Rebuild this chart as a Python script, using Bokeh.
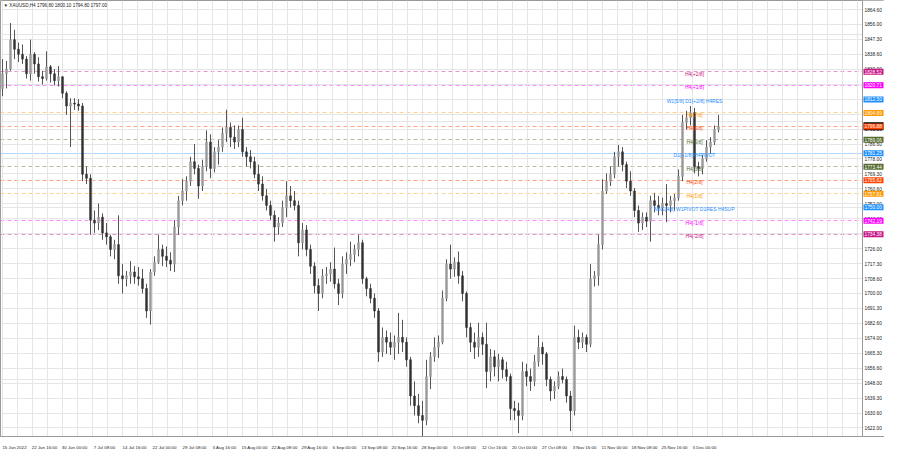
import numpy as np
import pandas as pd
from bokeh.plotting import figure
from bokeh.models import (ColumnDataSource, FixedTicker, Range1d, Grid,
                          BoxAnnotation, Span)
from bokeh.core.properties import value
from bokeh.embed import file_html
from bokeh.resources import INLINE

# ---------------- data ----------------
title_text = "\u25BC XAUUSD,H4  1796.80 1800.10 1794.80 1797.00"
current_price = 1797.00

# each candle below aggregates 4 consecutive H4 bars
opens = [
    1818.9, 1827.4, 1830.2, 1847.2, 1841.6, 1838.7, 1835.9, 1827.4, 1838.7, 1833.1,
    1825.7, 1824.6, 1831.4, 1827.4, 1823.4, 1825.7, 1816.1, 1808.7, 1810.4, 1809.8,
    1808.7, 1769.1, 1766.8, 1742.5, 1740.8, 1744.2, 1735.1, 1732.8, 1725.5, 1728.3,
    1710.2, 1708.5, 1710.2, 1712.4, 1709.6, 1708.5, 1702.8, 1689.8, 1712.4, 1718.1,
    1725.5, 1721.5, 1719.2, 1717.0, 1738.5, 1753.8,
    1759.4, 1765.1, 1776.4, 1772.5, 1762.3, 1773.6, 1787.8, 1772.5, 1782.1, 1784.9,
    1792.9, 1796.3, 1790.6, 1787.8, 1795.1, 1782.1, 1779.3, 1776.4, 1769.1, 1763.4,
    1756.6, 1751.0, 1745.3, 1738.5, 1740.8, 1749.8, 1756.6, 1753.8, 1751.0, 1729.4,
    1736.8, 1725.5, 1715.8, 1704.5, 1700.0, 1710.2, 1711.3, 1714.1, 1705.6, 1700.0,
    1717.0, 1719.8, 1722.6, 1725.5,
    1729.4, 1708.5, 1702.8, 1697.2, 1689.8, 1666.0, 1674.5, 1671.7, 1668.8, 1671.7,
    1674.5, 1671.7, 1661.5, 1640.5, 1634.9, 1629.2, 1626.4, 1651.8, 1663.2, 1668.8,
    1671.7, 1697.2, 1717.0, 1714.1, 1718.1, 1710.2, 1700.0, 1680.2, 1671.7, 1668.8,
    1674.5, 1670.5, 1654.7, 1663.2, 1657.5, 1661.5, 1655.8, 1651.8, 1633.2, 1632.0,
    1629.2, 1654.7, 1651.8, 1649.0, 1660.3, 1668.8,
    1664.9, 1650.1, 1643.4, 1646.2, 1651.8, 1650.1, 1640.5, 1632.0, 1674.5, 1671.7,
    1674.5, 1670.5, 1708.5, 1710.2, 1728.3, 1759.4, 1765.1, 1769.1, 1779.3, 1782.1,
    1774.7, 1765.1, 1759.4, 1748.1, 1740.8, 1744.2, 1741.9, 1753.8, 1751.0, 1749.8,
    1752.1, 1751.0, 1753.8, 1755.5, 1767.9, 1799.1, 1801.9, 1804.8, 1773.6, 1772.5,
    1778.1, 1784.9, 1787.8, 1795.1,
]
highs = [
    1835.9, 1834.8, 1856.8, 1852.9, 1845.5, 1844.4, 1837.6, 1847.2, 1839.9, 1837.0,
    1829.1, 1840.4, 1832.5, 1830.2, 1831.9, 1825.7, 1817.2, 1813.2, 1813.2, 1812.7,
    1810.4, 1773.6, 1769.1, 1748.1, 1752.1, 1746.4, 1740.8, 1734.0, 1731.1, 1745.3,
    1717.0, 1713.0, 1718.7, 1715.8, 1715.3, 1714.1, 1705.6, 1714.1, 1721.5, 1734.0,
    1728.3, 1727.2, 1723.8, 1742.5, 1756.6, 1766.2,
    1767.9, 1779.3, 1786.6, 1774.7, 1777.6, 1794.6, 1792.3, 1784.9, 1788.9, 1796.3,
    1806.5, 1799.1, 1797.4, 1797.4, 1801.9, 1784.9, 1783.2, 1779.3, 1774.7, 1767.9,
    1760.6, 1753.8, 1748.1, 1744.2, 1753.8, 1765.1, 1762.3, 1759.4, 1753.8, 1740.8,
    1739.6, 1728.3, 1718.1, 1708.5, 1714.1, 1715.3, 1718.1, 1726.6, 1708.5, 1721.5,
    1723.8, 1730.0, 1728.3, 1734.0,
    1731.1, 1709.6, 1705.6, 1700.0, 1691.5, 1680.2, 1678.5, 1677.3, 1675.6, 1688.7,
    1684.7, 1674.5, 1663.2, 1649.0, 1641.7, 1637.7, 1661.5, 1666.0, 1674.5, 1675.6,
    1701.7, 1719.8, 1728.3, 1720.9, 1724.3, 1713.0, 1701.1, 1683.0, 1677.3, 1683.0,
    1677.3, 1683.0, 1667.7, 1667.1, 1664.9, 1663.2, 1660.3, 1653.5, 1637.7, 1636.6,
    1660.3, 1659.2, 1656.4, 1664.3, 1675.6, 1671.7,
    1666.0, 1651.8, 1649.0, 1654.7, 1656.4, 1651.8, 1643.4, 1681.3, 1679.0, 1677.3,
    1676.2, 1717.0, 1713.0, 1734.0, 1766.2, 1769.6, 1773.6, 1782.1, 1786.1, 1784.9,
    1776.4, 1770.8, 1761.1, 1751.0, 1747.0, 1747.0, 1756.6, 1758.3, 1756.6, 1755.5,
    1763.4, 1756.6, 1757.7, 1771.9, 1803.6, 1805.9, 1808.7, 1807.6, 1776.4, 1780.4,
    1788.9, 1790.6, 1797.4, 1803.5,
]
lows = [
    1814.4, 1818.9, 1829.1, 1835.9, 1834.2, 1833.1, 1824.6, 1823.4, 1827.4, 1822.9,
    1821.2, 1823.4, 1822.3, 1820.6, 1820.0, 1813.2, 1803.6, 1784.9, 1806.4, 1805.9,
    1765.1, 1763.4, 1734.0, 1735.1, 1736.8, 1731.1, 1728.3, 1721.5, 1719.8, 1705.6,
    1700.0, 1704.0, 1705.6, 1705.6, 1704.5, 1700.0, 1685.8, 1681.9, 1710.2, 1717.0,
    1715.8, 1715.3, 1713.0, 1712.4, 1734.0, 1751.0,
    1753.8, 1762.3, 1769.1, 1754.9, 1759.4, 1770.8, 1766.8, 1770.2, 1774.7, 1782.1,
    1787.8, 1784.9, 1783.8, 1784.9, 1779.3, 1773.6, 1772.5, 1766.8, 1759.4, 1753.8,
    1748.1, 1742.5, 1730.0, 1734.0, 1738.5, 1744.2, 1749.8, 1748.1, 1721.5, 1725.5,
    1721.5, 1711.3, 1700.0, 1689.8, 1697.2, 1705.6, 1706.8, 1702.8, 1693.2, 1697.2,
    1711.3, 1715.8, 1718.1, 1721.5,
    1705.6, 1698.3, 1694.3, 1685.8, 1660.3, 1663.2, 1664.9, 1664.3, 1661.5, 1664.9,
    1666.0, 1657.5, 1634.9, 1629.2, 1624.7, 1616.7, 1623.5, 1644.5, 1660.3, 1662.6,
    1670.5, 1695.4, 1708.5, 1709.6, 1705.6, 1695.4, 1674.5, 1666.0, 1662.0, 1663.2,
    1664.3, 1645.0, 1649.0, 1651.8, 1649.0, 1650.7, 1649.0, 1626.4, 1626.4, 1619.0,
    1626.4, 1646.2, 1643.4, 1646.2, 1657.5, 1658.6,
    1646.2, 1637.7, 1638.8, 1644.5, 1647.9, 1636.6, 1620.1, 1629.2, 1667.7, 1668.3,
    1666.0, 1668.8, 1704.0, 1704.5, 1725.5, 1757.7, 1762.3, 1766.8, 1773.6, 1770.8,
    1761.1, 1756.6, 1744.2, 1735.7, 1736.8, 1738.5, 1730.0, 1747.0, 1745.3, 1745.3,
    1741.3, 1747.0, 1748.1, 1753.8, 1765.1, 1795.1, 1797.4, 1769.6, 1767.9, 1769.1,
    1776.4, 1781.0, 1786.1, 1793.4,
]
closes = [
    1827.4, 1830.2, 1847.2, 1841.6, 1838.7, 1835.9, 1827.4, 1838.7, 1833.1, 1825.7,
    1824.6, 1831.4, 1827.4, 1823.4, 1825.7, 1816.1, 1808.7, 1810.4, 1809.8, 1808.7,
    1769.1, 1766.8, 1742.5, 1740.8, 1744.2, 1735.1, 1732.8, 1725.5, 1728.3, 1710.2,
    1708.5, 1710.2, 1712.4, 1709.6, 1708.5, 1702.8, 1689.8, 1712.4, 1718.1, 1725.5,
    1721.5, 1719.2, 1717.0, 1738.5, 1753.8, 1759.4,
    1765.1, 1776.4, 1772.5, 1762.3, 1773.6, 1787.8, 1772.5, 1782.1, 1784.9, 1792.9,
    1796.3, 1790.6, 1787.8, 1795.1, 1782.1, 1779.3, 1776.4, 1769.1, 1763.4, 1756.6,
    1751.0, 1745.3, 1738.5, 1740.8, 1749.8, 1756.6, 1753.8, 1751.0, 1729.4, 1736.8,
    1725.5, 1715.8, 1704.5, 1700.0, 1710.2, 1711.3, 1714.1, 1705.6, 1700.0, 1717.0,
    1719.8, 1722.6, 1725.5, 1729.4,
    1708.5, 1702.8, 1697.2, 1689.8, 1666.0, 1674.5, 1671.7, 1668.8, 1671.7, 1674.5,
    1671.7, 1661.5, 1640.5, 1634.9, 1629.2, 1626.4, 1651.8, 1663.2, 1668.8, 1671.7,
    1697.2, 1717.0, 1714.1, 1718.1, 1710.2, 1700.0, 1680.2, 1671.7, 1668.8, 1674.5,
    1670.5, 1654.7, 1663.2, 1657.5, 1661.5, 1655.8, 1651.8, 1633.2, 1632.0, 1629.2,
    1654.7, 1651.8, 1649.0, 1660.3, 1668.8, 1664.9,
    1650.1, 1643.4, 1646.2, 1651.8, 1650.1, 1640.5, 1632.0, 1674.5, 1671.7, 1674.5,
    1670.5, 1708.5, 1710.2, 1728.3, 1759.4, 1765.1, 1769.1, 1779.3, 1782.1, 1774.7,
    1765.1, 1759.4, 1748.1, 1740.8, 1744.2, 1741.9, 1753.8, 1751.0, 1749.8, 1752.1,
    1751.0, 1753.8, 1755.5, 1767.9, 1799.1, 1801.9, 1804.8, 1773.6, 1772.5, 1778.1,
    1784.9, 1787.8, 1795.1, 1797.0,
]

# Murrey-math style levels drawn on the chart
level_prices = [1828.52, 1820.71, 1812.50, 1804.69, 1796.88, 1789.06, 1781.25,
                1773.44, 1765.62, 1757.81, 1750.00, 1742.19, 1734.38]
level_names = ["H4[+2/8]", "H4[+1/8]", "W1[5/8] D1[+2/8] H4RES", "H4[7/8]", "H4[6/8]",
               "H4[5/8]", "D1[+1/8] H4PIVOT", "H4[3/8]", "H4[2/8]", "H4[1/8]",
               "MN1[4/8] W1PIVOT D1RES H4SUP", "H4[-1/8]", "H4[-2/8]"]

price_ticks = [1864.60, 1856.00, 1847.30, 1838.60, 1830.00, 1821.30, 1812.60, 1804.00,
               1795.30, 1786.60, 1778.00, 1769.30, 1760.60, 1752.00, 1743.30, 1734.60,
               1726.00, 1717.30, 1708.60, 1700.00, 1691.30, 1682.60, 1674.00, 1665.30,
               1656.60, 1648.00, 1639.30, 1630.60, 1622.00, 1613.30]

time_labels = ["15 Jun 2022", "22 Jun 16:00", "30 Jun 00:00", "7 Jul 08:00", "14 Jul 16:00",
               "22 Jul 00:00", "29 Jul 08:00", "5 Aug 16:00", "15 Aug 00:00", "22 Aug 08:00",
               "29 Aug 16:00", "6 Sep 00:00", "13 Sep 08:00", "20 Sep 16:00", "28 Sep 00:00",
               "5 Oct 08:00", "12 Oct 16:00", "20 Oct 00:00", "27 Oct 08:00", "3 Nov 16:00",
               "11 Nov 00:00", "18 Nov 08:00", "25 Nov 16:00", "5 Dec 00:00"]

assert len(opens) == len(highs) == len(lows) == len(closes)

# ---------------- styles / layout ----------------
FONT = "Liberation Sans"
level_colors = ["#C71585", "#FF00FF", "#1E90FF", "#FF9900", "#FF4500", "#556B2F", "#1E90FF",
                "#556B2F", "#FF4500", "#FF9900", "#1E90FF", "#FF00FF", "#C71585"]
level_solid = [False, False, True, False, False, False, True,
               False, False, False, True, False, False]
level_alpha = [0.45, 0.45, 0.35, 0.45, 0.5, 0.45, 0.35, 0.45, 0.5, 0.45, 0.6, 0.45, 0.45]

W, H = 884, 452
STRIP = 862                # where the price scale strip starts (H4-bar units == px)
H4_PER_CANDLE = 4          # one drawn candle = 4 H4 bars
LABEL_BAR = 694            # H4 bar at which the level texts are anchored
TIME_LABEL_STEP = 30       # H4 bars between time-axis labels
Y_TOP, Y_BOTTOM = 1869.9, 1617.0

n = len(closes)
bar_pos = np.arange(n) * H4_PER_CANDLE + H4_PER_CANDLE / 2

df = pd.DataFrame(dict(x=bar_pos, o=opens, h=highs, l=lows, c=closes))
df["top"] = df[["o", "c"]].max(axis=1)
df["bottom"] = df[["o", "c"]].min(axis=1)
df["fill"] = np.where(df["c"] >= df["o"], "#9a9a9a", "#333333")
src = ColumnDataSource(df)

p = figure(width=W, height=H, output_backend="svg", toolbar_location=None,
           x_range=Range1d(0, W), y_range=Range1d(Y_BOTTOM, Y_TOP),
           y_axis_location=None,
           min_border_left=0, min_border_top=0, min_border_right=0, min_border_bottom=9,
           background_fill_color="white", border_fill_color="white",
           outline_line_color="#9a9a9a", outline_line_width=1)

# time axis
label_start = [1 + TIME_LABEL_STEP * k for k in range(len(time_labels))]
label_center = [s + 13 for s in label_start]
xax = p.xaxis[0]
xax.ticker = FixedTicker(ticks=label_center)
xax.major_label_overrides = {t: lab for t, lab in zip(label_center, time_labels)}
xax.major_label_text_font_size = "4.4px"
xax.major_label_text_font = FONT
xax.major_label_text_color = "#222222"
xax.major_label_standoff = 2
xax.major_tick_line_color = None
xax.minor_tick_line_color = None
xax.axis_line_color = "#9a9a9a"

# grid
p.xgrid.ticker = FixedTicker(ticks=list(range(2, STRIP, 15)))
p.xgrid.grid_line_color = "#e6e6e6"
p.add_layout(Grid(dimension=1, ticker=FixedTicker(ticks=price_ticks),
                  grid_line_color="#e6e6e6"))

# level lines
lv = pd.DataFrame(dict(y=level_prices, name=level_names, color=level_colors,
                       solid=level_solid, alpha=level_alpha))
lv["x"] = LABEL_BAR
lv["box_x"] = STRIP + 11
lv["txt_x"] = STRIP + 2
lv["val"] = [f"{v:.2f}" for v in level_prices]
p.hspan(y="y", source=ColumnDataSource(lv[~lv["solid"]]), line_color="color",
        line_alpha="alpha", line_width=1, line_dash="4 3", level="underlay")
p.hspan(y="y", source=ColumnDataSource(lv[lv["solid"]]), line_color="color",
        line_alpha="alpha", line_width=1.2, level="underlay")

# price-scale strip on the right
p.add_layout(BoxAnnotation(left=STRIP, fill_color="white", fill_alpha=1.0,
                           line_color=None, level="underlay"))
p.add_layout(Span(location=STRIP, dimension="height", line_color="#9a9a9a",
                  line_width=1, level="underlay"))

# candles
p.segment(x0="x", y0="l", x1="x", y1="h", source=src, line_color="#555555", line_width=1)
p.vbar(x="x", width=1.8, top="top", bottom="bottom", source=src,
       fill_color="fill", line_color="fill", line_width=0.6)

# level texts
p.text(x="x", y="y", text="name", source=ColumnDataSource(lv), text_color="color",
       text_font=value(FONT), text_font_size="5px", text_align="center",
       text_baseline="middle", y_offset=2)

# price scale labels
ticks_df = pd.DataFrame(dict(y=price_ticks, t=[f"{v:.2f}" for v in price_ticks]))
ticks_df["x"] = STRIP + 2
p.text(x="x", y="y", text="t", source=ColumnDataSource(ticks_df), text_color="#222222",
       text_font=value(FONT), text_font_size="4.8px", text_align="left",
       text_baseline="middle")

# current price marker and level boxes on the price scale
p.rect(x=[STRIP + 11], y=[current_price], width=20, height=8, height_units="screen",
       fill_color="black", line_color=None)
lsrc = ColumnDataSource(lv)
p.rect(x="box_x", y="y", width=20, height=6, height_units="screen", source=lsrc,
       fill_color="color", line_color=None)
p.text(x="txt_x", y="y", text="val", source=lsrc, text_color="white",
       text_font=value(FONT), text_font_size="4.8px", text_align="left",
       text_baseline="middle")

# chart title (top-left), placed 5 px below the top edge of the chart
p.text(x=[3], y=[Y_TOP], text=[title_text], y_offset=5, text_align="left",
       text_baseline="middle", text_color="#222222", text_font=value(FONT),
       text_font_size="4.6px")

open("out.html", "w").write(file_html(p, INLINE))
